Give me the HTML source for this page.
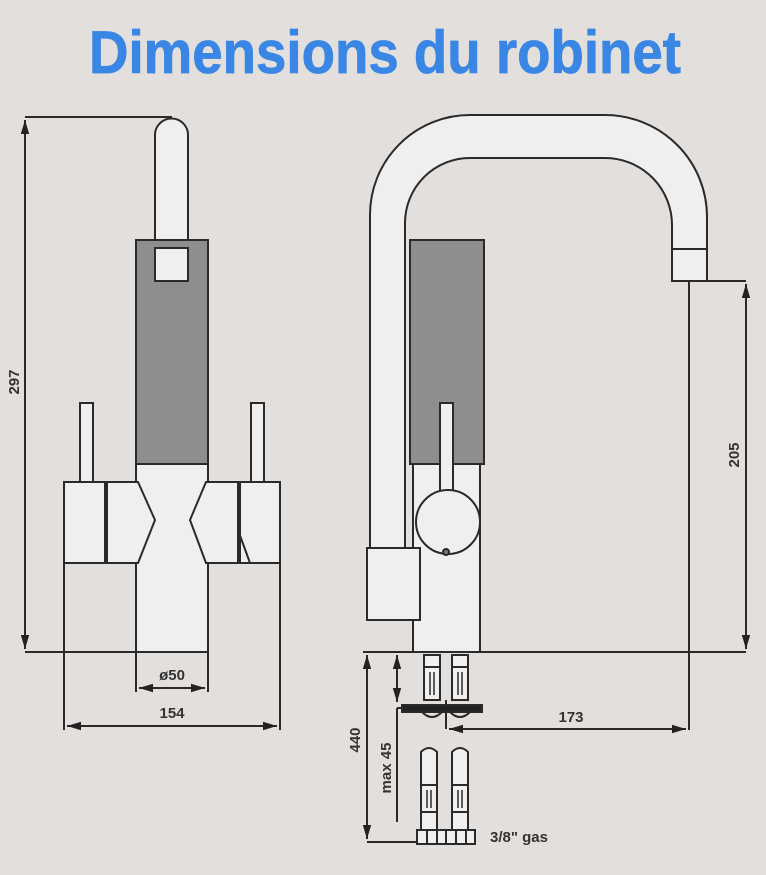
<!DOCTYPE html>
<html><head><meta charset="utf-8"><style>
html,body{margin:0;padding:0;background:#e3dfdc;}
svg{display:block;}
text{font-family:"Liberation Sans",Arial,sans-serif;font-weight:bold;fill:#333;}
</style></head><body>
<svg width="766" height="875" viewBox="0 0 766 875" xmlns="http://www.w3.org/2000/svg">
<defs>
<marker id="a" viewBox="0 0 10 10" refX="10" refY="5" markerWidth="7" markerHeight="7" orient="auto-start-reverse"><path d="M0,2 L10,5 L0,8z" fill="#222"/></marker>
</defs>
<rect width="766" height="875" fill="#e3dfdc"/>
<text x="385" y="73" text-anchor="middle" font-size="60" textLength="592" lengthAdjust="spacingAndGlyphs" style="fill:#3a86e4;stroke:#3a86e4;stroke-width:0.8">Dimensions du robinet</text>

<g stroke="#2a2a2a" stroke-width="2" fill="#efefef">
<path d="M25,117 H172" fill="none"/>
<path d="M25,652 H208" fill="none"/>
<line x1="25" y1="120" x2="25" y2="649" marker-start="url(#a)" marker-end="url(#a)"/>
<path d="M155,248 V135 A16.5,16.5 0 0 1 188,135 V248z"/>
<rect x="136" y="240" width="72" height="224" fill="#8e8e8e"/>
<rect x="155" y="248" width="33" height="33"/>
<rect x="136" y="464" width="72" height="188"/>
<rect x="80" y="403" width="13" height="80"/>
<rect x="251" y="403" width="13" height="80"/>
<rect x="64" y="482" width="41" height="81"/>
<rect x="240" y="482" width="40" height="81"/>
<path d="M107,482 H138 L155,520 L138,563 H107z"/>
<path d="M238,482 H206 L190,520 L206,563 H238z"/>
<path d="M238,530 L250,563" fill="none"/>
<line x1="64" y1="563" x2="64" y2="730" fill="none"/>
<line x1="280" y1="563" x2="280" y2="730" fill="none"/>
<line x1="67" y1="726" x2="277" y2="726" marker-start="url(#a)" marker-end="url(#a)"/>
<line x1="136" y1="652" x2="136" y2="692"/>
<line x1="208" y1="652" x2="208" y2="692"/>
<line x1="139" y1="688" x2="205" y2="688" marker-start="url(#a)" marker-end="url(#a)"/>

<path d="M370,550 V215 A100,100 0 0 1 470,115 H605 A102,102 0 0 1 707,217 V281 H672 V225 A67,67 0 0 0 605,158 H470 A65,65 0 0 0 405,223 V550z"/>
<line x1="672" y1="249" x2="707" y2="249"/>
<rect x="410" y="240" width="74" height="224" fill="#8e8e8e"/>
<rect x="413" y="464" width="67" height="188"/>
<rect x="440" y="403" width="13" height="90"/>
<circle cx="448" cy="522" r="32"/>
<circle cx="446" cy="552" r="3" fill="#777"/>
<rect x="367" y="548" width="53" height="72"/>
<path d="M363,652 H746" fill="none"/>
<path d="M707,281 H746" fill="none"/>
<line x1="746" y1="284" x2="746" y2="649" marker-start="url(#a)" marker-end="url(#a)"/>
<line x1="689" y1="281" x2="689" y2="730"/>
<line x1="449" y1="729" x2="686" y2="729" marker-start="url(#a)" marker-end="url(#a)"/>
<line x1="446" y1="700" x2="446" y2="729"/>
<rect x="424" y="655" width="16" height="45"/>
<rect x="452" y="655" width="16" height="45"/>
<line x1="424" y1="667" x2="440" y2="667"/><line x1="452" y1="667" x2="468" y2="667"/>
<line x1="430" y1="672" x2="430" y2="695" stroke-width="1.5"/><line x1="434" y1="672" x2="434" y2="695" stroke-width="1.5"/>
<line x1="458" y1="672" x2="458" y2="695" stroke-width="1.5"/><line x1="462" y1="672" x2="462" y2="695" stroke-width="1.5"/>
<rect x="402" y="705" width="80" height="7" fill="#222"/>
<path d="M422,712 q10,10 20,0 M450,712 q10,10 20,0" fill="none"/>
<path d="M421,830 V752 q8,-8 16,0 V830z"/>
<path d="M452,830 V752 q8,-8 16,0 V830z"/>
<line x1="421" y1="785" x2="437" y2="785"/><line x1="452" y1="785" x2="468" y2="785"/>
<line x1="421" y1="812" x2="437" y2="812"/><line x1="452" y1="812" x2="468" y2="812"/>
<line x1="427" y1="790" x2="427" y2="808" stroke-width="1.5"/><line x1="431" y1="790" x2="431" y2="808" stroke-width="1.5"/>
<line x1="458" y1="790" x2="458" y2="808" stroke-width="1.5"/><line x1="462" y1="790" x2="462" y2="808" stroke-width="1.5"/>
<rect x="417" y="830" width="58" height="14"/>
<line x1="427" y1="830" x2="427" y2="844"/><line x1="437" y1="830" x2="437" y2="844"/><line x1="446" y1="830" x2="446" y2="844"/><line x1="456" y1="830" x2="456" y2="844"/><line x1="466" y1="830" x2="466" y2="844"/>
<line x1="367" y1="655" x2="367" y2="839" marker-start="url(#a)" marker-end="url(#a)"/>
<path d="M367,842 H417" fill="none"/>
<line x1="397" y1="655" x2="397" y2="702" marker-start="url(#a)" marker-end="url(#a)"/>
<line x1="397" y1="708" x2="397" y2="822"/>
<line x1="397" y1="708" x2="402" y2="708"/>
</g>

<text transform="translate(19,382) rotate(-90)" text-anchor="middle" font-size="15">297</text>
<text x="172" y="680" text-anchor="middle" font-size="15">ø50</text>
<text x="172" y="718" text-anchor="middle" font-size="15">154</text>
<text transform="translate(739,455) rotate(-90)" text-anchor="middle" font-size="15">205</text>
<text x="571" y="722" text-anchor="middle" font-size="15">173</text>
<text transform="translate(360,740) rotate(-90)" text-anchor="middle" font-size="15">440</text>
<text transform="translate(391,768) rotate(-90)" text-anchor="middle" font-size="15">max 45</text>
<text x="490" y="842" font-size="15">3/8" gas</text>
</svg>
</body></html>
